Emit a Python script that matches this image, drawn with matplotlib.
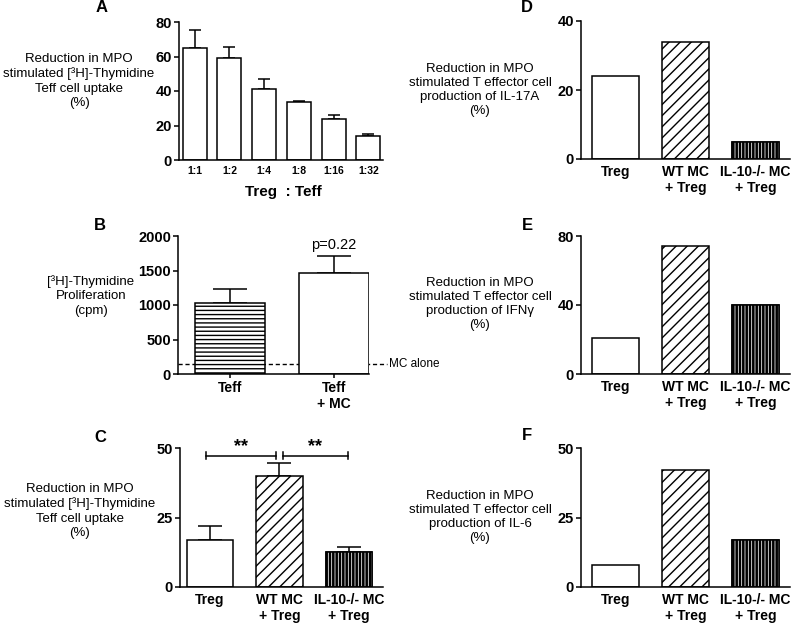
import matplotlib
matplotlib.use("Agg")
import matplotlib.pyplot as plt
import numpy as np

plt.rcParams["font.family"] = ["Liberation Sans", "DejaVu Sans"]
plt.rcParams["hatch.linewidth"] = 1.0

W, H = 792, 623

# panel A
ratio_labels = ["1:1", "1:2", "1:4", "1:8", "1:16", "1:32"]
ratio_vals = [65, 59, 41, 33.5, 23.5, 14]
ratio_err = [10.5, 6.5, 6, 0.5, 2.5, 1]

# panel B
prolif_labels = ["Teff", "Teff\n+ MC"]
prolif_vals = [1025, 1465]
prolif_err = [210, 250]
mc_alone = 150

# panels C-F
group_labels = ["Treg", "WT MC\n+ Treg", "IL-10-/- MC\n+ Treg"]
thym_vals = [17, 40, 12.5]
thym_err = [5, 4.5, 2]
il17_vals = [24, 34, 5]
ifng_vals = [21, 74, 40]
il6_vals = [8, 42, 17]

LW = 1.1

fig = plt.figure(figsize=(W / 100, H / 100), dpi=100)


def add_ax(x0, x1, ytop, ybot):
    return fig.add_axes([x0 / W, 1 - ybot / H, (x1 - x0) / W, (ybot - ytop) / H])


def ftext(x, y, s, **kw):
    fig.text(x / W, 1 - y / H, s, **kw)


def style(ax, yticks, ylim, xlim):
    for s in ["top", "right"]:
        ax.spines[s].set_visible(False)
    for s in ["left", "bottom"]:
        ax.spines[s].set_linewidth(LW)
    ax.set_ylim(*ylim)
    ax.set_xlim(*xlim)
    ax.set_yticks(yticks)
    ax.tick_params(axis="y", length=3.5, width=LW, pad=1.5, labelsize=10.5)
    ax.tick_params(axis="x", length=0, pad=4, labelsize=10)
    for lab in ax.get_yticklabels() + ax.get_xticklabels():
        lab.set_fontweight("bold")


def group_bars(ax, vals):
    x = np.arange(len(vals))
    w = 0.67
    ax.bar(x[0], vals[0], w, color="white", edgecolor="black", linewidth=LW, zorder=2)
    ax.bar(x[1], vals[1], w, color="white", edgecolor="black", linewidth=LW, hatch="///",
           zorder=2)
    ax.bar(x[2], vals[2], w, color="black", edgecolor="black", linewidth=LW, zorder=2)
    with plt.rc_context({"hatch.linewidth": 0.55}):
        bars = ax.bar(x[2], vals[2], w, color="none", edgecolor="white", linewidth=0,
                      hatch="|||||", zorder=2)
        for b in bars:
            if hasattr(b, "set_hatch_linewidth"):
                b.set_hatch_linewidth(0.55)
    ax.bar(x[2], vals[2], w, color="none", edgecolor="black", linewidth=LW, zorder=2)
    ax.set_xticks(x)
    ax.set_xticklabels(group_labels)


# ---- A ----
axA = add_ax(179, 383, 22, 160)
xa = np.arange(len(ratio_vals))
axA.bar(xa, ratio_vals, 0.69, color="white", edgecolor="black", linewidth=LW, zorder=2)
axA.errorbar(xa, ratio_vals, yerr=[np.zeros(len(ratio_err)), ratio_err], fmt="none",
             ecolor="black", elinewidth=LW, capsize=4.3, capthick=LW, zorder=1)
axA.set_xticks(xa)
axA.set_xticklabels(ratio_labels)
style(axA, [0, 20, 40, 60, 80], (0, 80), (-0.45, 5.42))
axA.tick_params(axis="x", labelsize=7.5)
ftext(283, 192, "Treg  : Teff", ha="center", va="center", fontsize=11, fontweight="bold")

# ---- B ----
axB = add_ax(178, 369, 236, 374)
xb = np.arange(len(prolif_vals))
axB.bar(xb[0], prolif_vals[0], 0.67, color="white", edgecolor="black", linewidth=LW,
        hatch="----", zorder=2)
axB.bar(xb[1], prolif_vals[1], 0.67, color="white", edgecolor="black", linewidth=LW, zorder=2)
axB.errorbar(xb, prolif_vals, yerr=[[0, 0], prolif_err], fmt="none", ecolor="black",
             elinewidth=LW, capsize=12, capthick=LW, zorder=1)
axB.set_xticks(xb)
axB.set_xticklabels(prolif_labels)
style(axB, [0, 500, 1000, 1500, 2000], (0, 2000), (-0.5, 1.335))
axB.tick_params(axis="x", length=3, width=LW, pad=2)
axB.plot([-0.5, 1.51], [mc_alone, mc_alone], color="black", linestyle=(0, (3, 2)),
         linewidth=1.0, clip_on=False, zorder=1)
axB.text(1.53, mc_alone, "MC alone", ha="left", va="center", fontsize=8.5)
axB.text(xb[1], prolif_vals[1] + prolif_err[1] + 60, "p=0.22", ha="center", va="bottom",
         fontsize=10.5)

# ---- C ----
axC = add_ax(180, 383, 448, 587)
group_bars(axC, thym_vals)
axC.errorbar(np.arange(3), thym_vals, yerr=[[0, 0, 0], thym_err], fmt="none", ecolor="black",
             elinewidth=LW, capsize=8.3, capthick=LW, zorder=1)
style(axC, [0, 25, 50], (0, 50), (-0.43, 2.49))
for x0, x1 in [(-0.05, 0.95), (1.05, 1.98)]:
    axC.plot([x0, x1], [47.2, 47.2], color="black", linewidth=LW, clip_on=False)
    for xe in (x0, x1):
        axC.plot([xe, xe], [46.0, 48.4], color="black", linewidth=LW, clip_on=False)
    axC.text((x0 + x1) / 2, 47.6, "**", ha="center", va="bottom", fontsize=13,
             fontweight="bold")

# ---- D, E, F ----
axD = add_ax(581, 790, 21, 159)
group_bars(axD, il17_vals)
style(axD, [0, 20, 40], (0, 40), (-0.49, 2.49))

axE = add_ax(581, 790, 236, 374)
group_bars(axE, ifng_vals)
style(axE, [0, 40, 80], (0, 80), (-0.49, 2.49))

axF = add_ax(581, 790, 448, 587)
group_bars(axF, il6_vals)
style(axF, [0, 25, 50], (0, 50), (-0.49, 2.49))

# y labels
lab_kw = dict(ha="center", va="center", fontsize=9.5, linespacing=1.25, multialignment="center")
thym_lab = "Reduction in MPO\nstimulated [\u00b3H]-Thymidine\nTeff cell uptake\n(%)"
ftext(79, 81, thym_lab, **lab_kw)
ftext(91, 296, "[\u00b3H]-Thymidine\nProliferation\n(cpm)", **lab_kw)
ftext(80, 511, thym_lab, **lab_kw)
ftext(480, 90, "Reduction in MPO\nstimulated T effector cell\nproduction of IL-17A\n(%)", **lab_kw)
ftext(480, 304, "Reduction in MPO\nstimulated T effector cell\nproduction of IFN\u03b3\n(%)", **lab_kw)
ftext(480, 517, "Reduction in MPO\nstimulated T effector cell\nproduction of IL-6\n(%)", **lab_kw)

# panel letters
for s, x, y in [("A", 102, 8), ("B", 100, 225), ("C", 100, 437),
                ("D", 527, 8), ("E", 527, 226), ("F", 527, 435)]:
    ftext(x, y, s, ha="center", va="center", fontsize=12, fontweight="bold")

fig.savefig("out.png", dpi=100)
